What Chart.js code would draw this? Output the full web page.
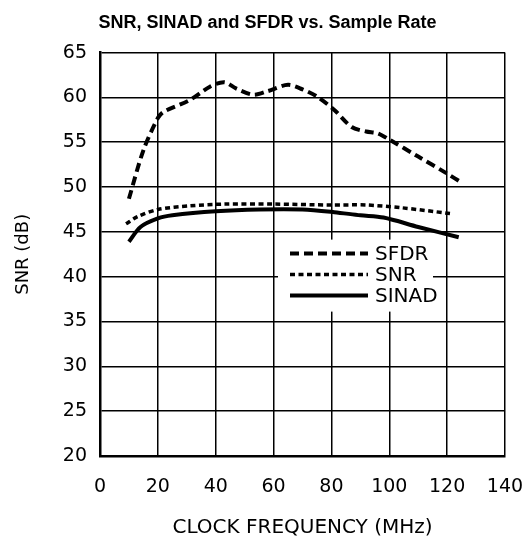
<!DOCTYPE html>
<html>
<head>
<meta charset="utf-8">
<script src="https://cdn.jsdelivr.net/npm/chart.js@4/dist/chart.umd.min.js"></script>
<style>
	body { margin: 0; background: #fff; }
	canvas { display: block; }
</style>
</head>
<body>
<canvas id="chart" width="523" height="541"></canvas>
<script>
// values
var sfdrX = [10, 15, 20, 22, 31, 38, 43, 47, 53, 58, 65, 70, 75, 81, 87, 92, 96, 100, 110, 120, 125];
var sfdrY = [48.7, 54.1, 57.7, 58.4, 59.7, 61.2, 61.7, 61.0, 60.3, 60.7, 61.4, 60.9, 60.1, 58.6, 56.7, 56.2, 56.0, 55.3, 53.4, 51.5, 50.5];
var snrX = [9, 13, 20, 31, 43, 60, 80, 92, 104, 121];
var snrY = [45.9, 46.7, 47.5, 47.9, 48.1, 48.1, 48.0, 48.0, 47.7, 47.05];
var sinadX = [10, 14, 20, 25, 40, 55, 70, 81, 90, 98, 110, 124];
var sinadY = [43.9, 45.55, 46.5, 46.85, 47.3, 47.5, 47.5, 47.2, 46.85, 46.6, 45.55, 44.4];
var seriesNames = ["SFDR", "SNR", "SINAD"];
var xTicks = [0, 20, 40, 60, 80, 100, 120, 140];
var yTicks = [20, 25, 30, 35, 40, 45, 50, 55, 60, 65];

function pts(xs, ys) {
	return xs.map(function (x, i) { return { x: x, y: ys[i] }; });
}

var tickFont = { family: "'DejaVu Sans', sans-serif", size: 19 };

// legend drawn in a white box inside the plot, over the grid
var boxLegend = {
	id: 'boxLegend',
	afterDatasetsDraw: function (chart) {
		var ctx = chart.ctx, a = chart.chartArea;
		var left = a.left + 178, top = a.top + 187;
		ctx.save();
		ctx.fillStyle = '#fff';
		ctx.fillRect(left, top, 155, 72);
		ctx.font = "20px 'DejaVu Sans', sans-serif";
		ctx.textBaseline = 'middle';
		ctx.fillStyle = '#000';
		chart.data.datasets.forEach(function (ds, i) {
			var y = top + 14 + i * 21;
			ctx.beginPath();
			ctx.setLineDash(ds.borderDash || []);
			ctx.lineWidth = ds.borderWidth;
			ctx.strokeStyle = ds.borderColor;
			ctx.moveTo(left + 12, y);
			ctx.lineTo(left + 90, y);
			ctx.stroke();
			ctx.setLineDash([]);
			ctx.fillText(ds.label, left + 97, y + 1);
		});
		ctx.restore();
	}
};

new Chart(document.getElementById('chart'), {
	type: 'line',
	data: {
		datasets: [{
			label: seriesNames[0],
			data: pts(sfdrX, sfdrY),
			borderColor: '#000',
			borderWidth: 4,
			borderDash: [9, 5],
			tension: 0.3
		}, {
			label: seriesNames[1],
			data: pts(snrX, snrY),
			borderColor: '#000',
			borderWidth: 3.5,
			borderDash: [5, 3.5],
			tension: 0.3
		}, {
			label: seriesNames[2],
			data: pts(sinadX, sinadY),
			borderColor: '#000',
			borderWidth: 4,
			tension: 0.3
		}]
	},
	options: {
		responsive: false,
		animation: false,
		elements: { point: { radius: 0 } },
		layout: { padding: { left: 13, right: 1, top: 0, bottom: 1 } },
		plugins: {
			legend: { display: false },
			tooltip: { enabled: false },
			title: {
				display: true,
				text: 'SNR, SINAD and SFDR vs. Sample Rate',
				color: '#000',
				font: { family: "'Liberation Sans', Arial, sans-serif", size: 18, weight: 'bold' },
				padding: { top: 12, bottom: 19 }
			}
		},
		scales: {
			x: {
				type: 'linear',
				min: xTicks[0],
				max: xTicks[xTicks.length - 1],
				afterBuildTicks: function (s) { s.ticks = xTicks.map(function (v) { return { value: v }; }); },
				afterFit: function (s) { s.height = 84; s.paddingRight = 18; },
				grid: { color: '#000', lineWidth: 1.5, drawTicks: false },
				border: { color: '#000', width: 2.5 },
				ticks: { color: '#000', font: tickFont, padding: 20, maxRotation: 0 },
				title: {
					display: true,
					text: 'CLOCK FREQUENCY (MHz)',
					color: '#000',
					font: { family: "'DejaVu Sans', sans-serif", size: 20 },
					padding: 0
				}
			},
			y: {
				min: yTicks[0],
				max: yTicks[yTicks.length - 1],
				afterBuildTicks: function (s) { s.ticks = yTicks.map(function (v) { return { value: v }; }); },
				afterFit: function (s) { s.width = 87; },
				grid: { color: '#000', lineWidth: 1.5, drawTicks: false },
				border: { color: '#000', width: 2.5 },
				ticks: { color: '#000', font: tickFont, padding: 13 },
				title: {
					display: true,
					text: 'SNR (dB)',
					color: '#000',
					font: { family: "'DejaVu Sans', sans-serif", size: 18 },
					padding: 0
				}
			}
		}
	},
	plugins: [boxLegend]
});
</script>
</body>
</html>
